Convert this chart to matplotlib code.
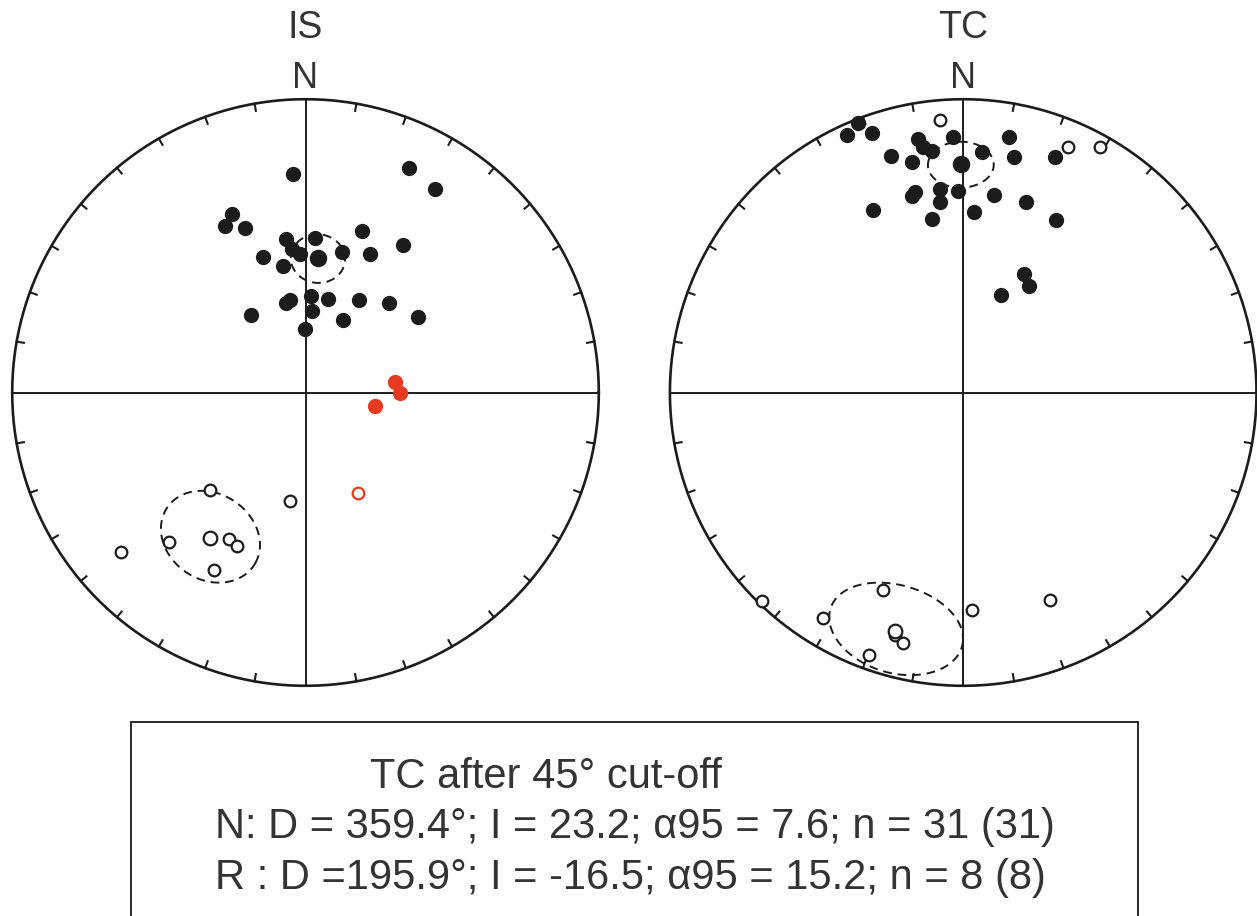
# equal-area stereonets, in situ (IS) and tilt corrected (TC)

import numpy as np
import matplotlib.pyplot as plt
from matplotlib.patches import Rectangle

is_down_x = [-0.043, 0.352, 0.440, -0.249, -0.275, -0.205, 0.194, -0.066, 0.034, 0.333,
             -0.046, -0.020, -0.144, 0.125, 0.220, -0.077, 0.018, -0.053, -0.066, 0.076,
             0.182, 0.283, 0.022, -0.186, 0.382, 0.129, -0.003]
is_down_y = [0.745, 0.764, 0.693, 0.609, 0.566, 0.562, 0.549, 0.523, 0.528, 0.503,
             0.489, 0.473, 0.462, 0.479, 0.472, 0.433, 0.328, 0.314, 0.306, 0.320,
             0.314, 0.304, 0.277, 0.263, 0.259, 0.246, 0.217]
is_up_x = [-0.326, -0.053, -0.464, -0.262, -0.233, -0.313, -0.630]
is_up_y = [-0.334, -0.369, -0.510, -0.501, -0.525, -0.605, -0.545]
is_red_down_x = [0.305, 0.323, 0.237]
is_red_down_y = [0.036, -0.003, -0.046]
is_red_up_x = [0.179]
is_red_up_y = [-0.343]

tc_down_x = [-0.360, -0.395, -0.312, -0.154, -0.136, -0.106, -0.036, 0.157, 0.065, -0.247,
             -0.176, 0.173, 0.313, -0.078, -0.017, -0.165, -0.173, 0.104, -0.078, 0.215,
             -0.308, 0.038, -0.108, 0.317, 0.209, 0.223, 0.129]
tc_down_y = [0.920, 0.878, 0.886, 0.864, 0.838, 0.824, 0.870, 0.870, 0.820, 0.806,
             0.785, 0.803, 0.803, 0.694, 0.687, 0.682, 0.670, 0.672, 0.649, 0.648,
             0.622, 0.616, 0.593, 0.589, 0.403, 0.362, 0.334]
tc_up_x = [-0.078, 0.359, 0.465, -0.685, -0.477, -0.275, -0.234, -0.205, -0.321, 0.029, 0.296]
tc_up_y = [0.929, 0.837, 0.836, -0.712, -0.770, -0.672, -0.826, -0.853, -0.896, -0.740, -0.708]

# site means: declination, inclination, alpha95
is_means = [(5.3, 52.1, 7.1), (213.4, -40.4, 13.1)]
tc_means = [(359.4, 23.2, 7.6), (195.9, -16.5, 15.2)]

box_lines = ["TC after 45° cut-off",
             "N: D = 359.4°; I = 23.2; α95 = 7.6; n = 31 (31)",
             "R : D =195.9°; I = -16.5; α95 = 15.2; n = 8 (8)"]

INK = '#1c1c1c'
RED = '#e63b1f'
TXT = '#333333'
plt.rcParams['font.family'] = ['Liberation Sans', 'DejaVu Sans']

W, H = 1257, 916
R_PX = 293.3
LIM = 1.04


def project(dec, inc):
    # equal-area, plotted by |inc|
    dec = np.radians(dec)
    r = np.sqrt(2) * np.sin(np.radians(90 - np.abs(inc)) / 2)
    return r * np.sin(dec), r * np.cos(dec)


def cone(dec, inc, a95):
    d, i = np.radians(dec), np.radians(inc)
    m = np.array([np.cos(i) * np.cos(d), np.cos(i) * np.sin(d), np.sin(i)])
    u = np.cross(m, [0, 0, 1.0])
    u /= np.linalg.norm(u)
    v = np.cross(m, u)
    t = np.linspace(0, 2 * np.pi, 300)
    a = np.radians(a95)
    p = np.cos(a) * m[:, None] + np.sin(a) * (np.outer(u, np.cos(t)) + np.outer(v, np.sin(t)))
    pd = np.degrees(np.arctan2(p[1], p[0]))
    pi = np.degrees(np.arcsin(np.clip(p[2], -1, 1)))
    return project(pd, pi)


def net(cx, cy, title):
    half = R_PX * LIM
    ax = fig.add_axes([(cx - half) / W, (H - cy - half) / H, 2 * half / W, 2 * half / H])
    ax.set_xlim(-LIM, LIM)
    ax.set_ylim(-LIM, LIM)
    ax.axis('off')
    t = np.linspace(0, 2 * np.pi, 400)
    ax.plot(np.cos(t), np.sin(t), color=INK, lw=1.9, clip_on=False)
    ax.plot([-1, 1], [0, 0], color=INK, lw=1.4)
    ax.plot([0, 0], [-1, 1], color=INK, lw=1.4)
    for ang in range(10, 360, 10):
        if ang % 90 == 0:
            continue
        a = np.radians(ang)
        ax.plot([np.sin(a), 0.975 * np.sin(a)], [np.cos(a), 0.975 * np.cos(a)], color=INK, lw=1.5)
    fig.text(cx / W, 1 - 38 / H, title, ha='center', va='baseline', fontsize=27, color=TXT)
    fig.text(cx / W, 1 - 88 / H, 'N', ha='center', va='baseline', fontsize=26, color=TXT)
    return ax


def means(ax, rows):
    for dec, inc, a95 in rows:
        cx, cy = cone(dec, inc, a95)
        ax.plot(cx, cy, color=INK, lw=1.4, ls=(0, (4.5, 3)))
        mx, my = project(dec, inc)
        if inc >= 0:
            ax.plot(mx, my, 'o', ms=12.6, color=INK, mec='none', zorder=5)
        else:
            ax.plot(mx, my, 'o', ms=9.8, mfc='white', mec=INK, mew=1.6, zorder=5)


fig = plt.figure(figsize=(W / 100, H / 100), dpi=100)

ax1 = net(305.5, 392.5, 'IS')
means(ax1, is_means)
ax1.plot(is_down_x, is_down_y, 'o', ms=11, color=INK, mec='none', zorder=4)
ax1.plot(is_up_x, is_up_y, 'o', ms=8.4, mfc='white', mec=INK, mew=1.6, zorder=4)
ax1.plot(is_red_down_x, is_red_down_y, 'o', ms=11, color=RED, mec='none', zorder=4)
ax1.plot(is_red_up_x, is_red_up_y, 'o', ms=8.4, mfc='white', mec=RED, mew=1.6, zorder=4)

ax2 = net(963.2, 392.5, 'TC')
means(ax2, tc_means)
ax2.plot(tc_down_x, tc_down_y, 'o', ms=11, color=INK, mec='none', zorder=4)
ax2.plot(tc_up_x, tc_up_y, 'o', ms=8.4, mfc='white', mec=INK, mew=1.6, zorder=4)

# statistics box, open at the bottom edge of the figure
fig.add_artist(Rectangle((130.7 / W, -0.02), (1138 - 130.7) / W, (916 - 721.7) / H + 0.02,
                         transform=fig.transFigure, fill=False, ec='#2a2a2a', lw=1.4))
fig.text(370 / W, 1 - 788 / H, box_lines[0], ha='left', va='baseline', fontsize=30, color=TXT)
fig.text(215 / W, 1 - 838 / H, box_lines[1], ha='left', va='baseline', fontsize=30, color=TXT)
fig.text(215 / W, 1 - 889 / H, box_lines[2], ha='left', va='baseline', fontsize=30, color=TXT)

fig.savefig('out.png', dpi=100)
